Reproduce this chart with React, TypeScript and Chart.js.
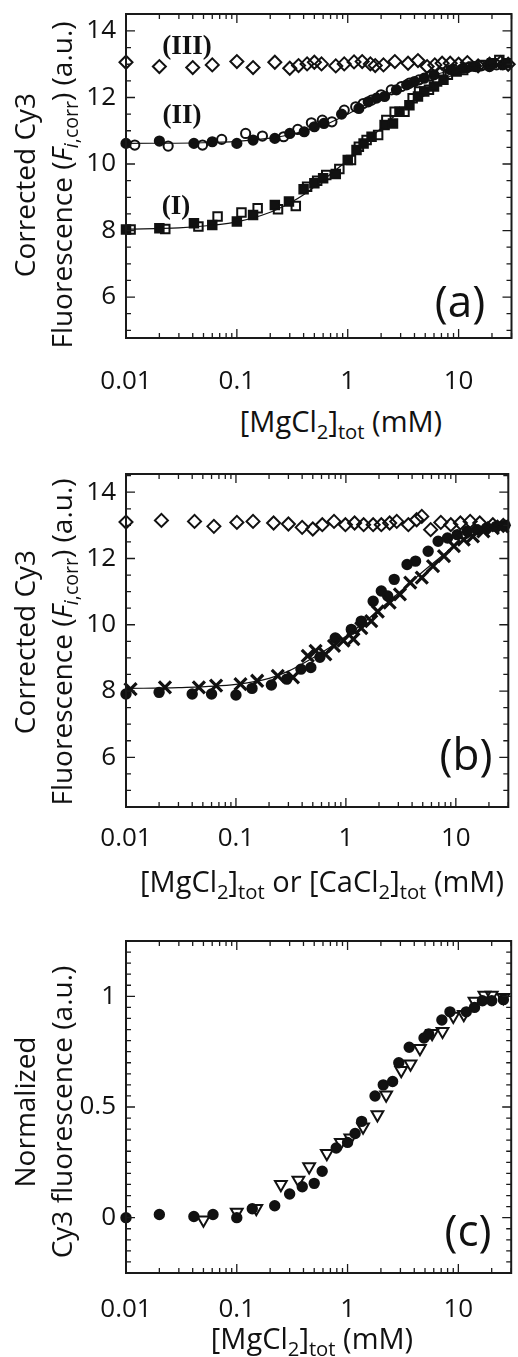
import React, { useEffect, useRef } from 'react';
import { Chart, registerables } from 'chart.js';
Chart.register(...registerables);
Chart.defaults.font.family = '"Open Sans", sans-serif';

// ---------- shared axis data ----------
const X_MIN = 0.01;
const X_MAX = 30;
const X_TICKS = [0.01, 0.1, 1, 10];

// ---------- panel (a) ----------
const A_Y_RANGE = [4.77, 14.51];
const A_Y_TICKS = [6, 8, 10, 12, 14];

const A_III_X = [0.01, 0.02, 0.04, 0.06, 0.1, 0.14, 0.22, 0.3, 0.36, 0.43, 0.5, 0.58, 0.78, 0.93, 1.14, 1.35, 1.6, 1.77, 2.1, 2.66, 3.5, 4.3, 5.2, 6.1, 7.1, 8.4, 10, 12, 15, 19, 24, 28];
const A_III_Y = [13.06, 12.93, 12.9, 12.98, 13.08, 12.9, 13.06, 12.88, 12.96, 13.01, 13.06, 13.01, 12.95, 13.01, 13.07, 13.08, 13.01, 12.96, 12.98, 13.08, 13.03, 13.11, 12.93, 12.98, 13.03, 13.03, 13.0, 13.05, 12.95, 13.0, 13.05, 13.0];

const A_I_OPEN_X = [0.011, 0.0226, 0.045, 0.067, 0.11, 0.154, 0.235, 0.34, 0.43, 0.53, 0.64, 0.84, 1.07, 1.26, 1.48, 1.88, 2.23, 2.65, 3.25, 3.85, 4.4, 5.4, 6.4, 8.0, 11, 16.5, 23.3];
const A_I_OPEN_Y = [8.03, 8.05, 8.12, 8.42, 8.54, 8.67, 8.64, 8.74, 9.32, 9.5, 9.67, 9.85, 10.12, 10.52, 10.72, 10.87, 11.32, 11.57, 11.57, 11.98, 12.18, 12.23, 12.48, 12.68, 12.83, 12.98, 13.13];
const A_I_FILL_X = [0.01, 0.02, 0.041, 0.06, 0.1, 0.14, 0.22, 0.295, 0.4, 0.5, 0.6, 0.78, 1.0, 1.2, 1.39, 1.64, 2.15, 2.56, 2.93, 3.6, 4.3, 4.9, 6.0, 7.3, 9.6, 13.4, 20, 27];
const A_I_FILL_Y = [8.03, 8.07, 8.22, 8.17, 8.27, 8.47, 8.77, 8.87, 9.24, 9.42, 9.57, 9.7, 10.12, 10.42, 10.62, 10.82, 11.17, 11.22, 11.57, 11.77, 12.03, 12.18, 12.33, 12.53, 12.78, 12.93, 13.03, 13.03];
const A_I_FIT_X = [0.01, 0.03, 0.06, 0.1, 0.2, 0.3, 0.4, 0.6, 1, 1.5, 2, 3, 5, 7, 10, 15, 20, 30];
const A_I_FIT_Y = [8.04, 8.08, 8.16, 8.26, 8.55, 8.83, 9.08, 9.52, 10.12, 10.68, 11.08, 11.6, 12.2, 12.5, 12.75, 12.92, 13.0, 13.05];

const A_II_OPEN_X = [0.012, 0.024, 0.049, 0.073, 0.12, 0.17, 0.264, 0.354, 0.47, 0.59, 0.72, 0.93, 1.18, 1.38, 1.64, 2.0, 2.47, 3.05, 3.6, 4.4, 5.5, 7, 9, 12, 16, 22];
const A_II_OPEN_Y = [10.57, 10.54, 10.57, 10.74, 10.92, 10.84, 10.82, 11.04, 11.24, 11.32, 11.27, 11.62, 11.72, 11.82, 11.92, 12.08, 12.23, 12.33, 12.43, 12.53, 12.65, 12.75, 12.85, 12.9, 12.95, 12.98];
const A_II_FILL_X = [0.01, 0.02, 0.041, 0.06, 0.1, 0.14, 0.22, 0.3, 0.405, 0.5, 0.61, 0.88, 1.26, 1.53, 1.82, 2.15, 2.75, 3.4, 4.0, 4.9, 6.0, 8.5, 11, 14.3, 19, 25];
const A_II_FILL_Y = [10.62, 10.69, 10.62, 10.67, 10.62, 10.72, 10.77, 10.92, 10.97, 11.12, 11.22, 11.5, 11.67, 11.87, 11.98, 12.03, 12.23, 12.38, 12.48, 12.58, 12.68, 12.83, 12.88, 12.93, 12.93, 12.98];
const A_II_FIT_X = [0.01, 0.05, 0.1, 0.2, 0.3, 0.5, 0.7, 1, 1.5, 2, 3, 5, 10, 20, 30];
const A_II_FIT_Y = [10.62, 10.64, 10.68, 10.78, 10.88, 11.08, 11.25, 11.5, 11.8, 12.0, 12.3, 12.6, 12.85, 12.98, 13.02];

// ---------- panel (b) ----------
const B_Y_RANGE = [4.5, 14.55];
const B_Y_TICKS = [6, 8, 10, 12, 14];

const B_DIAM_X = [0.01, 0.021, 0.042, 0.063, 0.102, 0.143, 0.22, 0.3, 0.4, 0.5, 0.61, 0.78, 0.99, 1.2, 1.45, 1.77, 2.1, 2.5, 2.9, 3.7, 4.4, 4.9, 5.9, 7.3, 9.0, 11, 13.5, 16.5, 21.7, 27];
const B_DIAM_Y = [13.1, 13.15, 13.12, 12.97, 13.09, 13.12, 13.07, 13.04, 12.94, 12.89, 13.02, 13.12, 13.02, 13.07, 13.02, 13.02, 13.02, 13.07, 13.12, 13.02, 13.17, 13.27, 12.87, 13.09, 13.02, 13.07, 13.12, 13.07, 13.02, 13.0];
const B_CROSS_X = [0.011, 0.0226, 0.046, 0.066, 0.11, 0.156, 0.24, 0.33, 0.45, 0.53, 0.65, 0.78, 0.95, 1.17, 1.38, 1.7, 1.95, 2.5, 3.1, 3.85, 4.9, 6.2, 7.8, 9.6, 11.8, 14.3, 17.8, 21.7, 26.5];
const B_CROSS_Y = [8.06, 8.11, 8.11, 8.16, 8.21, 8.31, 8.46, 8.41, 9.06, 9.21, 9.11, 9.36, 9.52, 9.57, 9.9, 10.11, 10.4, 10.67, 10.92, 11.27, 11.42, 11.77, 12.07, 12.37, 12.57, 12.67, 12.82, 12.92, 12.97];
const B_DOT_X = [0.01, 0.02, 0.04, 0.06, 0.1, 0.14, 0.21, 0.29, 0.39, 0.48, 0.58, 0.8, 1.12, 1.38, 1.77, 2.1, 2.4, 2.75, 3.6, 4.3, 5.6, 6.9, 8.4, 10.3, 12.7, 15.6, 19, 23.3, 28];
const B_DOT_Y = [7.91, 7.96, 7.91, 7.91, 7.88, 8.08, 8.18, 8.36, 8.66, 8.71, 9.02, 9.6, 9.86, 10.11, 10.71, 11.02, 10.87, 11.37, 11.82, 11.92, 12.22, 12.52, 12.62, 12.72, 12.82, 12.87, 12.92, 12.97, 13.0];
const B_FIT_X = [0.01, 0.03, 0.1, 0.2, 0.3, 0.5, 0.7, 1, 1.5, 2, 3, 5, 7, 10, 15, 20, 30];
const B_FIT_Y = [8.08, 8.1, 8.2, 8.38, 8.6, 9.0, 9.3, 9.65, 10.1, 10.45, 10.95, 11.6, 12.0, 12.4, 12.75, 12.9, 13.02];

// ---------- panel (c) ----------
const C_Y_RANGE = [-0.25, 1.25];
const C_Y_TICKS = [0, 0.5, 1];

const C_DOT_X = [0.01, 0.02, 0.041, 0.061, 0.1, 0.138, 0.22, 0.3, 0.39, 0.5, 0.59, 0.79, 1.0, 1.17, 1.34, 1.77, 2.1, 2.55, 2.9, 3.6, 4.9, 5.4, 7.1, 8.4, 11.8, 14, 16.5, 20, 25.5];
const C_DOT_Y = [0.0, 0.014, 0.005, 0.014, 0.0, 0.04, 0.054, 0.107, 0.14, 0.155, 0.21, 0.315, 0.34, 0.38, 0.435, 0.55, 0.6, 0.615, 0.7, 0.77, 0.812, 0.83, 0.893, 0.93, 0.93, 0.95, 0.98, 0.98, 0.985];
const C_TRI_X = [0.05, 0.1, 0.15, 0.25, 0.36, 0.45, 0.65, 0.87, 1.06, 1.38, 1.86, 2.23, 3.05, 3.7, 4.5, 5.8, 7.2, 9.0, 11.2, 14, 17.2, 20, 25.5];
const C_TRI_Y = [-0.01, 0.025, 0.042, 0.15, 0.17, 0.23, 0.29, 0.34, 0.36, 0.41, 0.465, 0.555, 0.665, 0.695, 0.765, 0.832, 0.842, 0.91, 0.918, 0.978, 1.005, 1.005, 0.995];

const INK = '#111';
const pts = (xs: number[], ys: number[]) => xs.map((x, i) => ({ x, y: ys[i] }));

const marker = (xs: number[], ys: number[], style: string, radius: number, filled: boolean, extra: any = {}) => ({
  data: pts(xs, ys),
  pointStyle: style,
  pointRadius: radius,
  pointHoverRadius: radius,
  pointBorderWidth: 2,
  pointBorderColor: INK,
  pointBackgroundColor: filled ? INK : 'rgba(255,255,255,0)',
  showLine: false,
  clip: false,
  ...extra,
});
const fitLine = (xs: number[], ys: number[]) => ({
  data: pts(xs, ys),
  showLine: true,
  borderColor: INK,
  borderWidth: 1.2,
  pointRadius: 0,
  pointHoverRadius: 0,
  cubicInterpolationMode: 'monotone',
  clip: false,
});

const framePlugin = {
  id: 'frame',
  afterDraw(chart: any, _args: any, opts: any) {
    const { ctx, chartArea } = chart;
    const { left, right, top, bottom } = chartArea;
    const xs = chart.scales.x;
    const ys = chart.scales.y;
    ctx.save();
    ctx.strokeStyle = '#1a1a1a';
    ctx.lineWidth = 2;
    ctx.strokeRect(left, top, right - left, bottom - top);
    ctx.lineWidth = 1.3;
    ctx.beginPath();
    const lo = Math.floor(Math.log10(xs.min));
    const hi = Math.ceil(Math.log10(xs.max));
    for (let d = lo; d <= hi; d++) {
      for (let m = 1; m <= 9; m++) {
        const v = m * Math.pow(10, d);
        if (v < xs.min * 0.999 || v > xs.max * 1.001) continue;
        const px = xs.getPixelForValue(v);
        const len = m === 1 ? 9 : 5;
        ctx.moveTo(px, bottom);
        ctx.lineTo(px, bottom - len);
        ctx.moveTo(px, top);
        ctx.lineTo(px, top + len);
      }
    }
    const step = opts.minorStep;
    const major = opts.majorStep;
    for (let i = Math.ceil(ys.min / step - 1e-6); i * step <= ys.max + 1e-9; i++) {
      const v = i * step;
      const py = ys.getPixelForValue(v);
      const r = v / major;
      const isMajor = Math.abs(r - Math.round(r)) < 1e-6;
      const len = isMajor ? 9 : 5;
      ctx.moveTo(left, py);
      ctx.lineTo(left + len, py);
      ctx.moveTo(right, py);
      ctx.lineTo(right - len, py);
    }
    ctx.stroke();
    ctx.restore();
  },
};

type PanelProps = {
  top: number;
  height: number;
  datasets: any[];
  yRange: number[];
  yTicks: number[];
  minorStep: number;
  majorStep: number;
  labelPad: number;
};

function Panel({ top, height, datasets, yRange, yTicks, minorStep, majorStep, labelPad }: PanelProps) {
  const ref = useRef<HTMLCanvasElement>(null);
  useEffect(() => {
    const chart = new Chart(ref.current as HTMLCanvasElement, {
      type: 'scatter',
      data: { datasets },
      options: {
        animation: false,
        responsive: false,
        maintainAspectRatio: false,
        events: [],
        layout: { padding: { top: 14, right: 1, left: 0, bottom: 0 } },
        plugins: {
          legend: { display: false },
          tooltip: { enabled: false },
          frame: { minorStep, majorStep },
        } as any,
        scales: {
          x: {
            type: 'logarithmic',
            min: X_MIN,
            max: X_MAX,
            grid: { display: false, drawTicks: false },
            border: { display: false },
            afterBuildTicks: (s: any) => {
              s.ticks = X_TICKS.map((v) => ({ value: v }));
            },
            afterFit: (s: any) => {
              s.height = 62;
              s.paddingLeft = 0;
              s.paddingRight = 0;
            },
            ticks: {
              padding: labelPad,
              maxRotation: 0,
              autoSkip: false,
              color: '#111',
              font: { size: 26 },
              callback: (v: any) => String(v),
            },
          },
          y: {
            type: 'linear',
            min: yRange[0],
            max: yRange[1],
            grid: { display: false, drawTicks: false },
            border: { display: false },
            afterBuildTicks: (s: any) => {
              s.ticks = yTicks.map((v) => ({ value: v }));
            },
            afterFit: (s: any) => {
              s.width = 126;
              s.paddingTop = 0;
              s.paddingBottom = 0;
            },
            ticks: {
              padding: 10,
              color: '#111',
              font: { size: 26 },
              callback: (v: any) => String(v),
            },
          },
        },
      } as any,
      plugins: [framePlugin as any],
    });
    return () => chart.destroy();
  }, []);
  return (
    <canvas
      ref={ref}
      width={520}
      height={height}
      style={{ position: 'absolute', left: 0, top, width: 520, height }}
    />
  );
}

const Txt = ({ x, y, rot, size, style, children }: any) => (
  <div
    style={{
      position: 'absolute',
      left: x,
      top: y,
      transform: `translate(-50%,-50%)${rot ? ' rotate(-90deg)' : ''}`,
      whiteSpace: 'nowrap',
      fontFamily: '"Open Sans", sans-serif',
      fontSize: size,
      lineHeight: 1.2,
      color: '#111',
      ...style,
    }}
  >
    {children}
  </div>
);
const Sub = ({ children }: any) => (
  <span style={{ fontSize: '0.7em', position: 'relative', top: '0.33em' }}>{children}</span>
);
const Roman = ({ x, y, children }: any) => (
  <Txt x={x} y={y} size={27} style={{ fontFamily: '"Liberation Serif", serif', fontWeight: 'bold' }}>
    {children}
  </Txt>
);
const FluorTitle = () => (
  <>
    Fluorescence (<i>F</i>
    <Sub>
      <i>i</i>,corr
    </Sub>
    ) (a.u.)
  </>
);
const MgTitle = () => (
  <>
    [MgCl<Sub>2</Sub>]<Sub>tot</Sub>
  </>
);

export default function App() {
  const dsA = [
    fitLine(A_I_FIT_X, A_I_FIT_Y),
    fitLine(A_II_FIT_X, A_II_FIT_Y),
    marker(A_I_FILL_X, A_I_FILL_Y, 'rect', 6, true),
    marker(A_I_OPEN_X, A_I_OPEN_Y, 'rect', 6, false),
    marker(A_II_FILL_X, A_II_FILL_Y, 'circle', 4.6, true),
    marker(A_II_OPEN_X, A_II_OPEN_Y, 'circle', 4.6, false),
    marker(A_III_X, A_III_Y, 'rectRot', 6.5, false),
  ];
  const dsB = [
    fitLine(B_FIT_X, B_FIT_Y),
    marker(B_CROSS_X, B_CROSS_Y, 'crossRot', 8.5, false, { pointBorderWidth: 3.2 }),
    marker(B_DOT_X, B_DOT_Y, 'circle', 4.7, true),
    marker(B_DIAM_X, B_DIAM_Y, 'rectRot', 6.5, false),
  ];
  const dsC = [
    marker(C_DOT_X, C_DOT_Y, 'circle', 4.7, true),
    marker(C_TRI_X, C_TRI_Y, 'triangle', 6.8, false, { pointRotation: 180 }),
  ];
  return (
    <div
      style={{
        position: 'absolute',
        left: 0,
        top: 0,
        width: 518,
        height: 1357,
        overflow: 'hidden',
        background: '#fff',
      }}
    >
      <Panel top={0} height={400} datasets={dsA} yRange={A_Y_RANGE} yTicks={A_Y_TICKS} minorStep={0.5} majorStep={2} labelPad={28} />
      <Panel top={460} height={409} datasets={dsB} yRange={B_Y_RANGE} yTicks={B_Y_TICKS} minorStep={0.5} majorStep={2} labelPad={16} />
      <Panel top={927} height={408} datasets={dsC} yRange={C_Y_RANGE} yTicks={C_Y_TICKS} minorStep={0.05} majorStep={0.5} labelPad={21} />

      {/* panel (a) texts */}
      <Txt x={25} y={185} rot size={28}>Corrected Cy3</Txt>
      <Txt x={62} y={185} rot size={28}><FluorTitle /></Txt>
      <Txt x={341} y={421} size={29}><MgTitle /> (mM)</Txt>
      <Txt x={460} y={300} size={44}>(a)</Txt>
      <Roman x={187} y={45}>(III)</Roman>
      <Roman x={182} y={114}>(II)</Roman>
      <Roman x={176} y={205}>(I)</Roman>

      {/* panel (b) texts */}
      <Txt x={25} y={642} rot size={28}>Corrected Cy3</Txt>
      <Txt x={62} y={642} rot size={28}><FluorTitle /></Txt>
      <Txt x={322} y={881} size={29}>
        <MgTitle /> or [CaCl<Sub>2</Sub>]<Sub>tot</Sub> (mM)
      </Txt>
      <Txt x={466} y={753} size={44}>(b)</Txt>

      {/* panel (c) texts */}
      <Txt x={25} y={1112} rot size={28}>Normalized</Txt>
      <Txt x={62} y={1112} rot size={28}>Cy3 fluorescence (a.u.)</Txt>
      <Txt x={312} y={1338} size={29}><MgTitle /> (mM)</Txt>
      <Txt x={468} y={1229} size={44}>(c)</Txt>
    </div>
  );
}
